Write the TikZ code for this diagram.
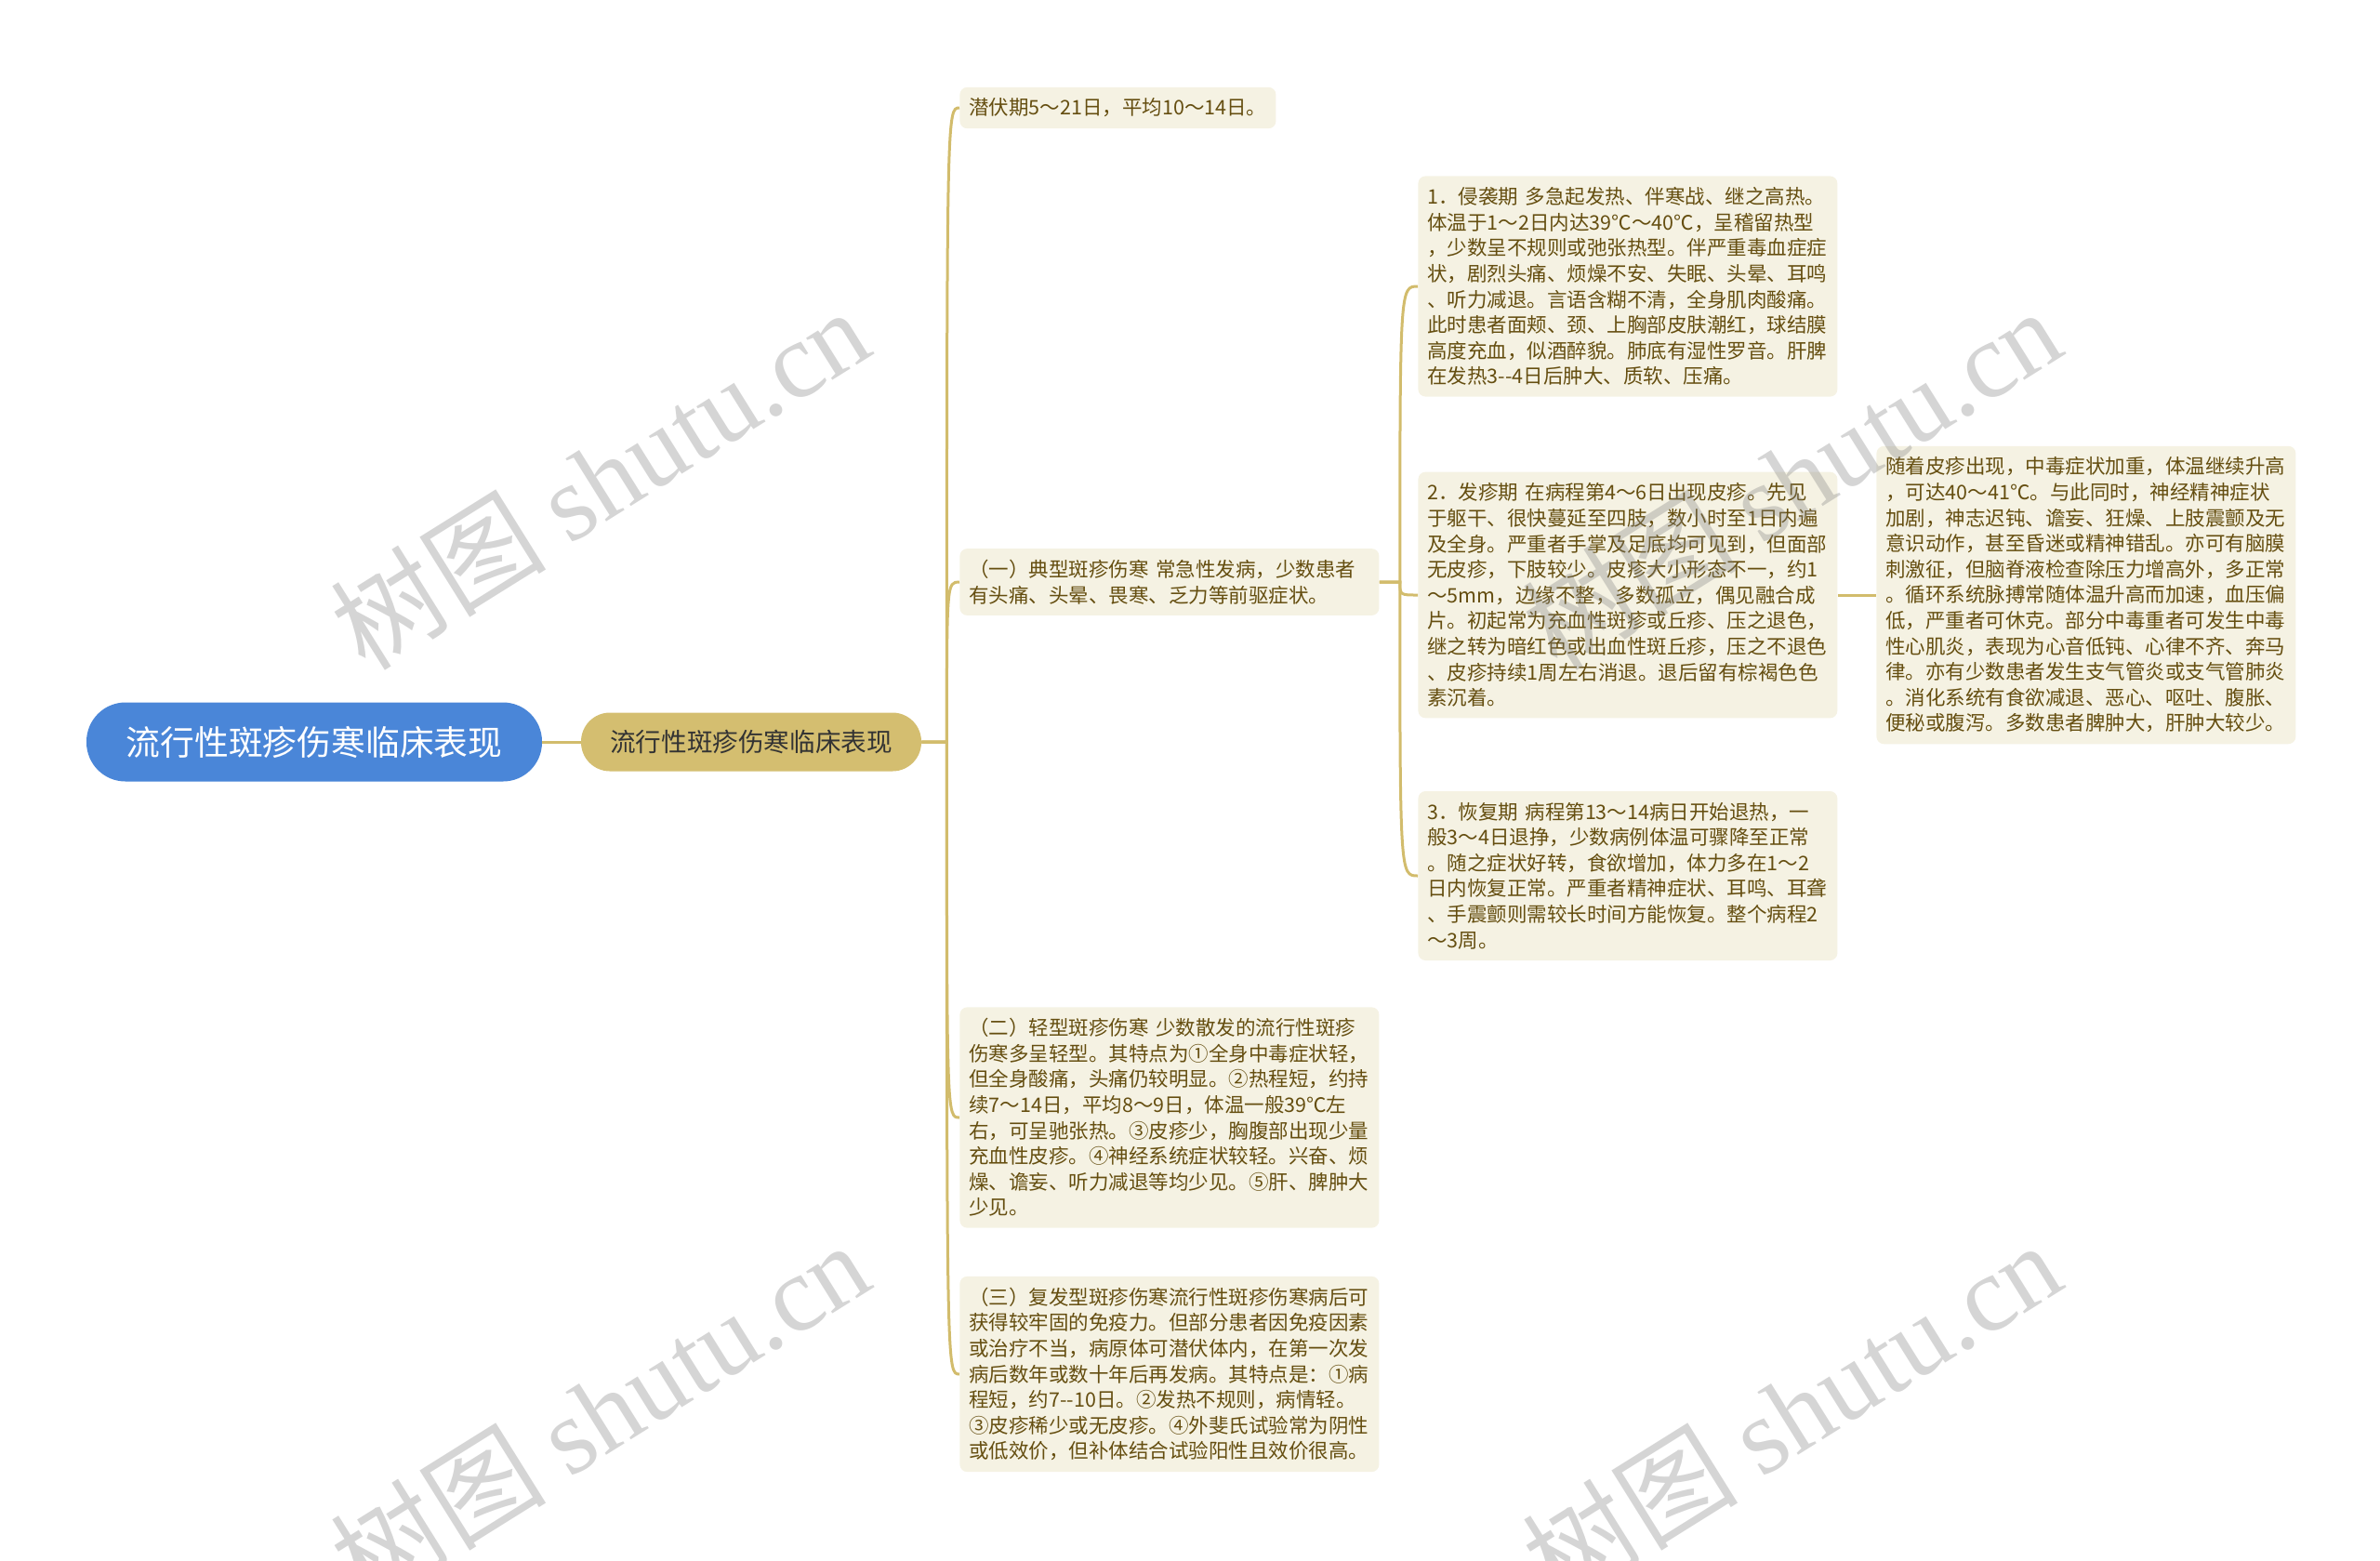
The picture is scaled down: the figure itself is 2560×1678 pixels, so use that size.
\documentclass[tikz,border=0pt]{standalone}
\usepackage{fontspec}
\setmainfont{Noto Sans CJK SC}
\newfontfamily\wmserif{Liberation Serif}
\newcommand{\limb}[3]{\path (#1.east) ++(#3,0) coordinate (j#2);
  \draw[link] (#1.east) -- (j#2) .. controls (j#2 |- #2.west) .. (#2.west);}
\definecolor{rootblue}{HTML}{4A86D8}
\definecolor{topicgold}{HTML}{D4BE70}
\definecolor{leafbg}{HTML}{F5F2E3}
\definecolor{leafink}{HTML}{654E10}
\definecolor{linegold}{HTML}{D2BC6C}
\usepackage{tikz}

\tikzset{
  link/.style={draw=linegold, line width=1.5pt},
  rootnode/.style={fill=rootblue, text=white, rounded corners=21pt,
    minimum width=245pt, minimum height=42.5pt,
    font=\fontsize{18.4pt}{20pt}\selectfont},
  topicnode/.style={fill=topicgold, text=black!80, rounded corners=15.5pt,
    minimum width=183pt, minimum height=31.5pt,
    font=\fontsize{13.8pt}{15pt}\selectfont},
  leaf/.style={anchor=west, fill=leafbg, text=leafink, rounded corners=4pt,
    inner xsep=5pt, inner ysep=6pt, align=left,
    font=\fontsize{10.75pt}{13.8pt}\selectfont},
  wideleaf/.style={leaf, text width=215.5pt},
  wmark/.style={rotate=32, text=gray, opacity=0.33,
    font=\fontsize{58pt}{60pt}\selectfont}
}

\begin{document}
\begin{tikzpicture}[x=0.5pt, y=-0.5pt]
  \useasboundingbox (0,0) rectangle (2560,1678);

  % Root and topic
  % --------------
  \node[rootnode] (root) at (338,798) {流行性斑疹伤寒临床表现};
  \node[topicnode] (topic) at (808,798) {流行性斑疹伤寒临床表现};
  \draw[link] (root) -- (topic);

  % Types
  % -----
  \node[leaf] (lat) at (1032,116) {潜伏期5～21日，平均10～14日。};

  \node[wideleaf] (typ) at (1032,626) {（一）典型斑疹伤寒 常急性发病，少数患者\\
    有头痛、头晕、畏寒、乏力等前驱症状。};

  \node[wideleaf] (mild) at (1032,1202) {（二）轻型斑疹伤寒 少数散发的流行性斑疹\\
    伤寒多呈轻型。其特点为①全身中毒症状轻，\\
    但全身酸痛，头痛仍较明显。②热程短，约持\\
    续7～14日，平均8～9日，体温一般39℃左\\
    右，可呈驰张热。③皮疹少，胸腹部出现少量\\
    充血性皮疹。④神经系统症状较轻。兴奋、烦\\
    燥、谵妄、听力减退等均少见。⑤肝、脾肿大\\
    少见。};

  \node[wideleaf] (rel) at (1032,1478) {（三）复发型斑疹伤寒流行性斑疹伤寒病后可\\
    获得较牢固的免疫力。但部分患者因免疫因素\\
    或治疗不当，病原体可潜伏体内，在第一次发\\
    病后数年或数十年后再发病。其特点是：①病\\
    程短，约7-{}-10日。②发热不规则，病情轻。\\
    ③皮疹稀少或无皮疹。④外斐氏试验常为阴性\\
    或低效价，但补体结合试验阳性且效价很高。};

  \foreach \c in {lat, typ, mild, rel}
  \limb{topic}{\c}{27};

  % Stages
  % ------
  \node[wideleaf] (inv) at (1525,308) {1．侵袭期 多急起发热、伴寒战、继之高热。\\
    体温于1～2日内达39℃～40℃，呈稽留热型\\
    ，少数呈不规则或弛张热型。伴严重毒血症症\\
    状，剧烈头痛、烦燥不安、失眠、头晕、耳鸣\\
    、听力减退。言语含糊不清，全身肌肉酸痛。\\
    此时患者面颊、颈、上胸部皮肤潮红，球结膜\\
    高度充血，似酒醉貌。肺底有湿性罗音。肝脾\\
    在发热3-{}-4日后肿大、质软、压痛。};

  \node[wideleaf] (ras) at (1525,640) {2．发疹期 在病程第4～6日出现皮疹。先见\\
    于躯干、很快蔓延至四肢，数小时至1日内遍\\
    及全身。严重者手掌及足底均可见到，但面部\\
    无皮疹，下肢较少。皮疹大小形态不一，约1\\
    ～5mm，边缘不整，多数孤立，偶见融合成\\
    片。初起常为充血性斑疹或丘疹、压之退色，\\
    继之转为暗红色或出血性斑丘疹，压之不退色\\
    、皮疹持续1周左右消退。退后留有棕褐色色\\
    素沉着。};

  \node[wideleaf] (rec) at (1525,942) {3．恢复期 病程第13～14病日开始退热，一\\
    般3～4日退挣，少数病例体温可骤降至正常\\
    。随之症状好转，食欲增加，体力多在1～2\\
    日内恢复正常。严重者精神症状、耳鸣、耳聋\\
    、手震颤则需较长时间方能恢复。整个病程2\\
    ～3周。};

  \foreach \c in {inv, ras, rec}
  \limb{typ}{\c}{22};

  % Toxic signs
  % -----------
  \node[wideleaf] (tox) at (2018,640) {随着皮疹出现，中毒症状加重，体温继续升高\\
    ，可达40～41℃。与此同时，神经精神症状\\
    加剧，神志迟钝、谵妄、狂燥、上肢震颤及无\\
    意识动作，甚至昏迷或精神错乱。亦可有脑膜\\
    刺激征，但脑脊液检查除压力增高外，多正常\\
    。循环系统脉搏常随体温升高而加速，血压偏\\
    低，严重者可休克。部分中毒重者可发生中毒\\
    性心肌炎，表现为心音低钝、心律不齐、奔马\\
    律。亦有少数患者发生支气管炎或支气管肺炎\\
    。消化系统有食欲减退、恶心、呕吐、腹胀、\\
    便秘或腹泻。多数患者脾肿大，肝肿大较少。};
  \draw[link] (ras) -- (tox);

  % Watermarks
  % ----------
  \foreach \wx/\wy [count=\k] in {645/514, 1927/514, 645/1518, 1927/1518}
  \node[wmark] (wm\k) at (\wx,\wy) {树图 {\wmserif shutu.cn}};

\end{tikzpicture}
\end{document}
